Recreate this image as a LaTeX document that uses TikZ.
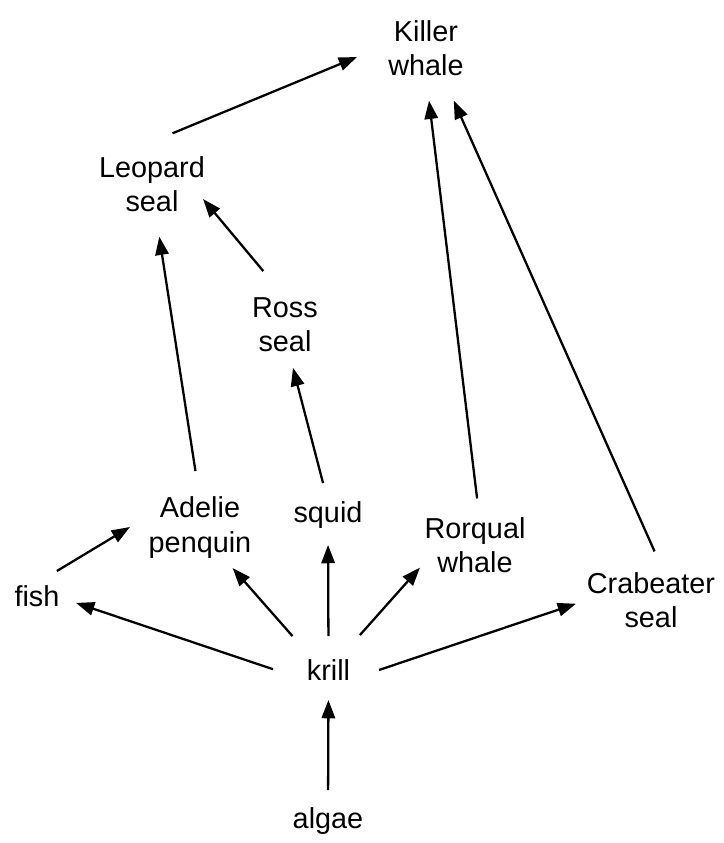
\documentclass[tikz,border=0pt]{standalone}
\usepackage{fontspec}
\setmainfont{Liberation Sans}
\usetikzlibrary{arrows.meta}

\begin{document}
\begin{tikzpicture}[scale=0.1, eats/.style={line width=0.65pt, -{Triangle[length=5.2pt,width=3.8pt]}}]
	\tikzstyle{every node}+=[inner sep=0pt, outer sep=0pt, align=center, font=\fontsize{8.2}{9.7}\selectfont]
	\useasboundingbox (0,0) rectangle (72.4,-84.3);
	% top predators
	\node (killer) at (42.6,-4.8) {Killer\\whale};
	\node (leopard) at (15.2,-18.4) {Leopard\\seal};
	\node (ross) at (28.5,-32.47) {Ross\\seal};
	% middle row
	\node (adelie) at (20.0,-52.75) {Adelie\\penquin};
	\node (squid) at (32.8,-51.55) {squid};
	\node (rorqual) at (47.5,-54.5) {Rorqual\\whale};
	\node (crabeater) at (65.1,-60.0) {Crabeater\\seal};
	\node (fish) at (3.7,-59.65) {fish};
	% bottom
	\node (krill) at (32.85,-67.05) {krill};
	\node (algae) at (32.8,-82.15) {algae};
	% who eats whom
	\draw [eats, shorten <=0.605cm, shorten >=0.339cm] (leopard.142.1) -- (killer.174.1);
	\draw [eats, shorten <=0.346cm, shorten >=-0.028cm] (ross.89.4) -- (leopard.-18.9);
	\draw [eats, shorten <=0.263cm, shorten >=0.253cm] (adelie.91.9) -- (leopard.-83.5);
	\draw [eats, shorten <=0.196cm, shorten >=0.165cm] (squid.90.4) -- (ross.-82.1);
	\draw [eats, shorten <=0.191cm, shorten >=0.252cm] (rorqual.81.3) -- (killer.-90);
	\draw [eats, shorten <=0.23cm, shorten >=0.274cm] (crabeater.65.5) -- (killer.-59.5);
	\draw [eats, shorten <=0.29cm, shorten >=0.219cm] (fish.115) -- (adelie.167);
	\draw [eats, shorten <=0.358cm, shorten >=0.175cm] (krill.205.9) -- (fish.-2.3);
	\draw [eats, shorten <=0.32cm, shorten >=0.133cm] (krill.145.5) -- (adelie.-52.7);
	\draw [eats, shorten <=0.24cm, shorten >=0.16cm] (krill.north) -- (squid.south);
	\draw [eats, shorten <=0.336cm, shorten >=0.069cm] (krill.49.1) -- (rorqual.199.6);
	\draw [eats, shorten <=0.305cm, shorten >=0.116cm] (krill.-23.3) -- (crabeater.180.6);
	\draw [eats, shorten <=0.18cm, shorten >=0.19cm] (algae.north) -- (krill.south);
\end{tikzpicture}
\end{document}
